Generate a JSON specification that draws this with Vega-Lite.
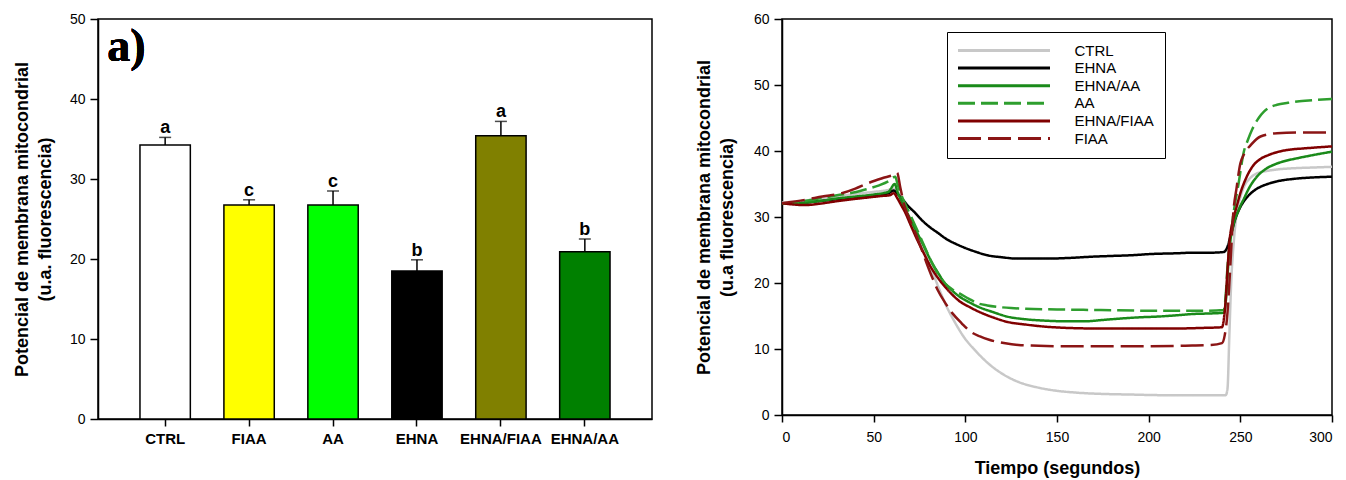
{
  "$schema": "https://vega.github.io/schema/vega-lite/v6.json",
  "padding": {"left": 12, "top": 11, "right": 5, "bottom": 0},
  "spacing": 41,
  "resolve": {
    "scale": {"color": "independent", "strokeDash": "independent"},
    "legend": {"color": "independent", "strokeDash": "independent"}
  },
  "config": {
    "view": {"stroke": "black", "strokeWidth": 1.5},
    "font": "Liberation Sans",
    "axis": {
      "labelFont": "Liberation Sans", "labelColor": "black", "labelFontSize": 14,
      "domainColor": "black", "domainWidth": 1.5, "tickColor": "black", "tickWidth": 1.5,
      "tickSize": 8, "labelPadding": 5, "grid": false,
      "titleFont": "Liberation Sans", "titleFontSize": 18, "titleFontWeight": "bold",
      "titleColor": "black", "titleLineHeight": 23
    }
  },
  "datasets": {
    "bars": [
      {"g": "CTRL", "v": 34.25, "hi": 35.2, "let": "a"},
      {"g": "FIAA", "v": 26.75, "hi": 27.4, "let": "c"},
      {"g": "AA", "v": 26.75, "hi": 28.5, "let": "c"},
      {"g": "EHNA", "v": 18.5, "hi": 19.9, "let": "b"},
      {"g": "EHNA/FIAA", "v": 35.4, "hi": 37.2, "let": "a"},
      {"g": "EHNA/AA", "v": 20.9, "hi": 22.5, "let": "b"}
    ],
    "lines": [
      {"s":"CTRL","t":0,"v":32.2},{"s":"CTRL","t":10,"v":32.4},{"s":"CTRL","t":20,"v":32.8},{"s":"CTRL","t":30,"v":33.1},{"s":"CTRL","t":40,"v":33.5},{"s":"CTRL","t":50,"v":33.8},{"s":"CTRL","t":58,"v":34.1},{"s":"CTRL","t":61,"v":34.3},{"s":"CTRL","t":63,"v":33.9},{"s":"CTRL","t":66,"v":32.3},{"s":"CTRL","t":69,"v":30.0},{"s":"CTRL","t":72,"v":28.3},{"s":"CTRL","t":75,"v":26.5},{"s":"CTRL","t":78,"v":24.5},{"s":"CTRL","t":81,"v":22.5},{"s":"CTRL","t":85,"v":19.6},{"s":"CTRL","t":89,"v":16.9},{"s":"CTRL","t":94,"v":14.2},{"s":"CTRL","t":99,"v":11.9},{"s":"CTRL","t":106,"v":9.6},{"s":"CTRL","t":113,"v":7.7},{"s":"CTRL","t":121,"v":6.1},{"s":"CTRL","t":129,"v":5.0},{"s":"CTRL","t":139,"v":4.2},{"s":"CTRL","t":149,"v":3.7},{"s":"CTRL","t":160,"v":3.4},{"s":"CTRL","t":174,"v":3.2},{"s":"CTRL","t":190,"v":3.1},{"s":"CTRL","t":210,"v":3.0},{"s":"CTRL","t":230,"v":3.0},{"s":"CTRL","t":242,"v":3.0},{"s":"CTRL","t":243,"v":4.0},{"s":"CTRL","t":244,"v":12.0},{"s":"CTRL","t":245,"v":20.0},{"s":"CTRL","t":246.5,"v":26.5},{"s":"CTRL","t":248,"v":30.5},{"s":"CTRL","t":250,"v":33.0},{"s":"CTRL","t":252,"v":34.6},{"s":"CTRL","t":255,"v":35.8},{"s":"CTRL","t":259,"v":36.6},{"s":"CTRL","t":265,"v":37.0},{"s":"CTRL","t":270,"v":37.2},{"s":"CTRL","t":280,"v":37.4},{"s":"CTRL","t":290,"v":37.5},{"s":"CTRL","t":300,"v":37.6},
      {"s":"EHNA","t":0,"v":32.0},{"s":"EHNA","t":10,"v":32.1},{"s":"EHNA","t":20,"v":32.4},{"s":"EHNA","t":30,"v":32.7},{"s":"EHNA","t":40,"v":33.0},{"s":"EHNA","t":50,"v":33.3},{"s":"EHNA","t":58,"v":33.6},{"s":"EHNA","t":61,"v":34.0},{"s":"EHNA","t":63,"v":33.5},{"s":"EHNA","t":66,"v":32.6},{"s":"EHNA","t":69,"v":31.6},{"s":"EHNA","t":72,"v":30.8},{"s":"EHNA","t":76,"v":29.6},{"s":"EHNA","t":80,"v":28.6},{"s":"EHNA","t":85,"v":27.6},{"s":"EHNA","t":90,"v":26.6},{"s":"EHNA","t":95,"v":25.9},{"s":"EHNA","t":100,"v":25.3},{"s":"EHNA","t":106,"v":24.7},{"s":"EHNA","t":112,"v":24.2},{"s":"EHNA","t":120,"v":23.9},{"s":"EHNA","t":128,"v":23.7},{"s":"EHNA","t":135,"v":23.7},{"s":"EHNA","t":145,"v":23.7},{"s":"EHNA","t":157,"v":23.8},{"s":"EHNA","t":170,"v":24.0},{"s":"EHNA","t":180,"v":24.1},{"s":"EHNA","t":190,"v":24.2},{"s":"EHNA","t":202,"v":24.4},{"s":"EHNA","t":215,"v":24.5},{"s":"EHNA","t":225,"v":24.6},{"s":"EHNA","t":235,"v":24.6},{"s":"EHNA","t":241,"v":24.7},{"s":"EHNA","t":243,"v":25.5},{"s":"EHNA","t":245,"v":27.5},{"s":"EHNA","t":247,"v":29.5},{"s":"EHNA","t":250,"v":31.5},{"s":"EHNA","t":254,"v":33.1},{"s":"EHNA","t":258,"v":34.1},{"s":"EHNA","t":262,"v":34.7},{"s":"EHNA","t":266,"v":35.1},{"s":"EHNA","t":270,"v":35.4},{"s":"EHNA","t":280,"v":35.8},{"s":"EHNA","t":290,"v":36.0},{"s":"EHNA","t":300,"v":36.1},
      {"s":"EHNA/AA","t":0,"v":32.0},{"s":"EHNA/AA","t":10,"v":32.1},{"s":"EHNA/AA","t":20,"v":32.4},{"s":"EHNA/AA","t":30,"v":32.8},{"s":"EHNA/AA","t":40,"v":33.1},{"s":"EHNA/AA","t":50,"v":33.4},{"s":"EHNA/AA","t":58,"v":33.8},{"s":"EHNA/AA","t":61.5,"v":35.0},{"s":"EHNA/AA","t":63,"v":33.8},{"s":"EHNA/AA","t":65,"v":32.5},{"s":"EHNA/AA","t":67,"v":31.3},{"s":"EHNA/AA","t":70,"v":29.7},{"s":"EHNA/AA","t":73,"v":28.0},{"s":"EHNA/AA","t":77,"v":25.8},{"s":"EHNA/AA","t":81,"v":23.5},{"s":"EHNA/AA","t":85,"v":21.6},{"s":"EHNA/AA","t":89,"v":19.9},{"s":"EHNA/AA","t":93,"v":18.8},{"s":"EHNA/AA","t":97,"v":17.9},{"s":"EHNA/AA","t":102,"v":17.1},{"s":"EHNA/AA","t":107,"v":16.4},{"s":"EHNA/AA","t":115,"v":15.6},{"s":"EHNA/AA","t":123,"v":14.9},{"s":"EHNA/AA","t":133,"v":14.5},{"s":"EHNA/AA","t":143,"v":14.3},{"s":"EHNA/AA","t":155,"v":14.2},{"s":"EHNA/AA","t":165,"v":14.2},{"s":"EHNA/AA","t":175,"v":14.4},{"s":"EHNA/AA","t":184,"v":14.6},{"s":"EHNA/AA","t":195,"v":14.8},{"s":"EHNA/AA","t":204,"v":14.9},{"s":"EHNA/AA","t":215,"v":15.1},{"s":"EHNA/AA","t":224,"v":15.3},{"s":"EHNA/AA","t":235,"v":15.4},{"s":"EHNA/AA","t":241,"v":15.5},{"s":"EHNA/AA","t":242,"v":17.0},{"s":"EHNA/AA","t":243,"v":21.0},{"s":"EHNA/AA","t":244,"v":25.0},{"s":"EHNA/AA","t":246,"v":28.5},{"s":"EHNA/AA","t":249,"v":31.0},{"s":"EHNA/AA","t":252,"v":32.8},{"s":"EHNA/AA","t":255,"v":34.5},{"s":"EHNA/AA","t":259,"v":36.1},{"s":"EHNA/AA","t":264,"v":37.3},{"s":"EHNA/AA","t":270,"v":38.1},{"s":"EHNA/AA","t":276,"v":38.6},{"s":"EHNA/AA","t":281,"v":38.9},{"s":"EHNA/AA","t":290,"v":39.4},{"s":"EHNA/AA","t":300,"v":39.9},
      {"s":"AA","t":0,"v":32.0},{"s":"AA","t":10,"v":32.3},{"s":"AA","t":20,"v":32.8},{"s":"AA","t":30,"v":33.3},{"s":"AA","t":39,"v":33.7},{"s":"AA","t":46,"v":34.2},{"s":"AA","t":53,"v":34.8},{"s":"AA","t":58,"v":35.4},{"s":"AA","t":61.8,"v":36.1},{"s":"AA","t":63,"v":35.0},{"s":"AA","t":65,"v":33.4},{"s":"AA","t":67,"v":32.1},{"s":"AA","t":70,"v":30.3},{"s":"AA","t":73,"v":28.5},{"s":"AA","t":77,"v":26.0},{"s":"AA","t":81,"v":23.5},{"s":"AA","t":85,"v":21.4},{"s":"AA","t":89,"v":19.9},{"s":"AA","t":93,"v":19.0},{"s":"AA","t":97,"v":18.4},{"s":"AA","t":102,"v":17.6},{"s":"AA","t":107,"v":16.9},{"s":"AA","t":112,"v":16.6},{"s":"AA","t":117,"v":16.4},{"s":"AA","t":125,"v":16.2},{"s":"AA","t":133,"v":16.1},{"s":"AA","t":150,"v":16.0},{"s":"AA","t":174,"v":15.9},{"s":"AA","t":200,"v":15.8},{"s":"AA","t":230,"v":15.8},{"s":"AA","t":241,"v":15.9},{"s":"AA","t":242,"v":18.0},{"s":"AA","t":243,"v":22.5},{"s":"AA","t":244.5,"v":26.5},{"s":"AA","t":246,"v":30.0},{"s":"AA","t":249,"v":35.0},{"s":"AA","t":252,"v":40.0},{"s":"AA","t":254,"v":41.6},{"s":"AA","t":256.5,"v":43.3},{"s":"AA","t":260,"v":45.0},{"s":"AA","t":263,"v":46.0},{"s":"AA","t":266,"v":46.6},{"s":"AA","t":270,"v":47.0},{"s":"AA","t":276,"v":47.3},{"s":"AA","t":281,"v":47.5},{"s":"AA","t":290,"v":47.7},{"s":"AA","t":300,"v":47.9},
      {"s":"EHNA/FIAA","t":0,"v":32.1},{"s":"EHNA/FIAA","t":6,"v":31.9},{"s":"EHNA/FIAA","t":12.5,"v":31.8},{"s":"EHNA/FIAA","t":20,"v":32.0},{"s":"EHNA/FIAA","t":32.6,"v":32.5},{"s":"EHNA/FIAA","t":45,"v":32.9},{"s":"EHNA/FIAA","t":55,"v":33.2},{"s":"EHNA/FIAA","t":58.8,"v":33.3},{"s":"EHNA/FIAA","t":61,"v":33.6},{"s":"EHNA/FIAA","t":63,"v":32.8},{"s":"EHNA/FIAA","t":65,"v":31.8},{"s":"EHNA/FIAA","t":67,"v":30.8},{"s":"EHNA/FIAA","t":70,"v":28.9},{"s":"EHNA/FIAA","t":73,"v":27.0},{"s":"EHNA/FIAA","t":77,"v":24.7},{"s":"EHNA/FIAA","t":81,"v":22.5},{"s":"EHNA/FIAA","t":85,"v":20.8},{"s":"EHNA/FIAA","t":89,"v":19.4},{"s":"EHNA/FIAA","t":93,"v":18.2},{"s":"EHNA/FIAA","t":97,"v":17.2},{"s":"EHNA/FIAA","t":102,"v":16.4},{"s":"EHNA/FIAA","t":107,"v":15.7},{"s":"EHNA/FIAA","t":115,"v":14.8},{"s":"EHNA/FIAA","t":123,"v":14.1},{"s":"EHNA/FIAA","t":133,"v":13.7},{"s":"EHNA/FIAA","t":143,"v":13.4},{"s":"EHNA/FIAA","t":155,"v":13.2},{"s":"EHNA/FIAA","t":174,"v":13.1},{"s":"EHNA/FIAA","t":200,"v":13.1},{"s":"EHNA/FIAA","t":214,"v":13.1},{"s":"EHNA/FIAA","t":230,"v":13.2},{"s":"EHNA/FIAA","t":240,"v":13.3},{"s":"EHNA/FIAA","t":241,"v":14.5},{"s":"EHNA/FIAA","t":242,"v":17.4},{"s":"EHNA/FIAA","t":243,"v":22.0},{"s":"EHNA/FIAA","t":244,"v":26.0},{"s":"EHNA/FIAA","t":246,"v":29.5},{"s":"EHNA/FIAA","t":248,"v":31.6},{"s":"EHNA/FIAA","t":250,"v":33.6},{"s":"EHNA/FIAA","t":253,"v":35.8},{"s":"EHNA/FIAA","t":256.5,"v":37.6},{"s":"EHNA/FIAA","t":261,"v":38.8},{"s":"EHNA/FIAA","t":265.5,"v":39.4},{"s":"EHNA/FIAA","t":271,"v":39.9},{"s":"EHNA/FIAA","t":276.8,"v":40.2},{"s":"EHNA/FIAA","t":285,"v":40.4},{"s":"EHNA/FIAA","t":300,"v":40.7},
      {"s":"FIAA","t":0,"v":32.1},{"s":"FIAA","t":12.5,"v":32.6},{"s":"FIAA","t":22,"v":33.1},{"s":"FIAA","t":32.6,"v":33.6},{"s":"FIAA","t":40,"v":34.3},{"s":"FIAA","t":46.7,"v":35.1},{"s":"FIAA","t":55,"v":35.9},{"s":"FIAA","t":60.8,"v":36.4},{"s":"FIAA","t":62.8,"v":36.7},{"s":"FIAA","t":64.5,"v":34.5},{"s":"FIAA","t":66.9,"v":31.6},{"s":"FIAA","t":70,"v":29.4},{"s":"FIAA","t":72.9,"v":27.5},{"s":"FIAA","t":76,"v":25.2},{"s":"FIAA","t":78.9,"v":23.0},{"s":"FIAA","t":82,"v":20.8},{"s":"FIAA","t":85,"v":18.9},{"s":"FIAA","t":89,"v":17.0},{"s":"FIAA","t":93,"v":15.4},{"s":"FIAA","t":98,"v":13.9},{"s":"FIAA","t":103,"v":12.6},{"s":"FIAA","t":108,"v":11.9},{"s":"FIAA","t":113,"v":11.4},{"s":"FIAA","t":121,"v":10.9},{"s":"FIAA","t":129,"v":10.6},{"s":"FIAA","t":140,"v":10.5},{"s":"FIAA","t":153,"v":10.4},{"s":"FIAA","t":194,"v":10.4},{"s":"FIAA","t":220,"v":10.5},{"s":"FIAA","t":234,"v":10.6},{"s":"FIAA","t":240,"v":10.9},{"s":"FIAA","t":241.5,"v":12.1},{"s":"FIAA","t":243,"v":15.5},{"s":"FIAA","t":244,"v":19.9},{"s":"FIAA","t":245,"v":25.0},{"s":"FIAA","t":246,"v":30.0},{"s":"FIAA","t":248,"v":34.5},{"s":"FIAA","t":250,"v":38.1},{"s":"FIAA","t":252,"v":39.5},{"s":"FIAA","t":256,"v":41.0},{"s":"FIAA","t":261,"v":42.2},{"s":"FIAA","t":270,"v":42.7},{"s":"FIAA","t":285,"v":42.8},{"s":"FIAA","t":300,"v":42.8}
    ]
  },
  "hconcat": [
    {
      "width": 554,
      "height": 400,
      "data": {"name": "bars"},
      "encoding": {
        "x": {
          "field": "g", "type": "nominal", "sort": null,
          "scale": {"paddingInner": 0.4, "paddingOuter": 0.5},
          "axis": {"title": null, "labelAngle": 0, "labelFontWeight": "bold", "labelFontSize": 15, "tickSize": 7, "labelPadding": 5}
        }
      },
      "layer": [
        {
          "mark": {"type": "bar", "stroke": "black", "strokeWidth": 1.5},
          "encoding": {
            "y": {
              "field": "v", "type": "quantitative",
              "scale": {"domain": [0, 50], "nice": false},
              "axis": {"values": [0, 10, 20, 30, 40, 50], "titlePadding": 15,
                       "title": ["Potencial de membrana mitocondrial", "(u.a. fluorescencia)"]}
            },
            "fill": {
              "field": "g", "type": "nominal", "sort": null, "legend": null,
              "scale": {"domain": ["CTRL", "FIAA", "AA", "EHNA", "EHNA/FIAA", "EHNA/AA"],
                        "range": ["#ffffff", "#ffff00", "#00ff00", "#000000", "#808000", "#008000"]}
            }
          }
        },
        {
          "mark": {"type": "rule", "color": "black", "strokeWidth": 1.5},
          "encoding": {"y": {"field": "v", "type": "quantitative"}, "y2": {"field": "hi"}}
        },
        {
          "mark": {"type": "tick", "color": "black", "size": 12, "thickness": 1.5},
          "encoding": {"y": {"field": "hi", "type": "quantitative"}}
        },
        {
          "mark": {"type": "text", "fontWeight": "bold", "fontSize": 18, "baseline": "bottom", "align": "center", "color": "black", "font": "Liberation Sans"},
          "encoding": {"y": {"field": "hi", "type": "quantitative"}, "text": {"field": "let"}}
        },
        {
          "mark": {"type": "text", "font": "Liberation Serif", "fontWeight": "bold", "fontSize": 46, "align": "left", "baseline": "alphabetic", "dx": -58, "color": "black"},
          "encoding": {"x": {"datum": "CTRL"}, "y": {"datum": 44.75}, "text": {"value": "a)"}}
        }
      ]
    },
    {
      "width": 550,
      "height": 396,
      "layer": [
        {
          "data": {"name": "lines"},
          "mark": {"type": "line", "strokeWidth": 2.5, "interpolate": "monotone"},
          "encoding": {
            "x": {
              "field": "t", "type": "quantitative",
              "scale": {"domain": [0, 300], "nice": false},
              "axis": {"values": [0, 50, 100, 150, 200, 250, 300], "tickSize": 7, "labelPadding": 8, "titlePadding": 15, "title": "Tiempo (segundos)"}
            },
            "y": {
              "field": "v", "type": "quantitative",
              "scale": {"domain": [0, 60], "nice": false},
              "axis": {"values": [0, 10, 20, 30, 40, 50, 60], "titlePadding": 17,
                       "title": ["Potencial de membrana mitocondrial", "(u.a fluorescencia)"]}
            },
            "color": {
              "field": "s", "type": "nominal",
              "scale": {"domain": ["CTRL", "EHNA", "EHNA/AA", "AA", "EHNA/FIAA", "FIAA"],
                        "range": ["#c8c8c8", "#000000", "#1a8a1a", "#2e9e2e", "#800000", "#8b1515"]},
              "legend": {
                "title": null, "orient": "none", "legendX": 165, "legendY": 13,
                "strokeColor": "black", "fillColor": "white", "padding": 11,
                "symbolType": "M-8,0H8", "symbolSize": 132.25, "symbolStrokeWidth": 3,
                "symbolOffset": 38.5, "labelOffset": 63, "rowPadding": 1.6,
                "labelFontSize": 15, "labelFont": "Liberation Sans", "labelColor": "black"
              }
            },
            "strokeDash": {
              "field": "s", "type": "nominal",
              "scale": {"domain": ["CTRL", "EHNA", "EHNA/AA", "AA", "EHNA/FIAA", "FIAA"],
                        "range": [[1, 0], [1, 0], [1, 0], [17, 6], [1, 0], [23, 7]]},
              "legend": {
                "title": null, "orient": "none", "legendX": 165, "legendY": 13,
                "strokeColor": "black", "fillColor": "white", "padding": 11,
                "symbolType": "M-8,0H8", "symbolSize": 132.25, "symbolStrokeWidth": 3,
                "symbolOffset": 38.5, "labelOffset": 63, "rowPadding": 1.6,
                "labelFontSize": 15, "labelFont": "Liberation Sans", "labelColor": "black"
              }
            }
          }
        },
        {
          "mark": {"type": "text", "font": "Liberation Serif", "fontWeight": "bold", "fontSize": 46, "align": "left", "baseline": "alphabetic", "color": "black"},
          "encoding": {"x": {"datum": 9.8}, "y": {"datum": 53.8}, "text": {"value": "b)"}}
        }
      ]
    }
  ]
}
